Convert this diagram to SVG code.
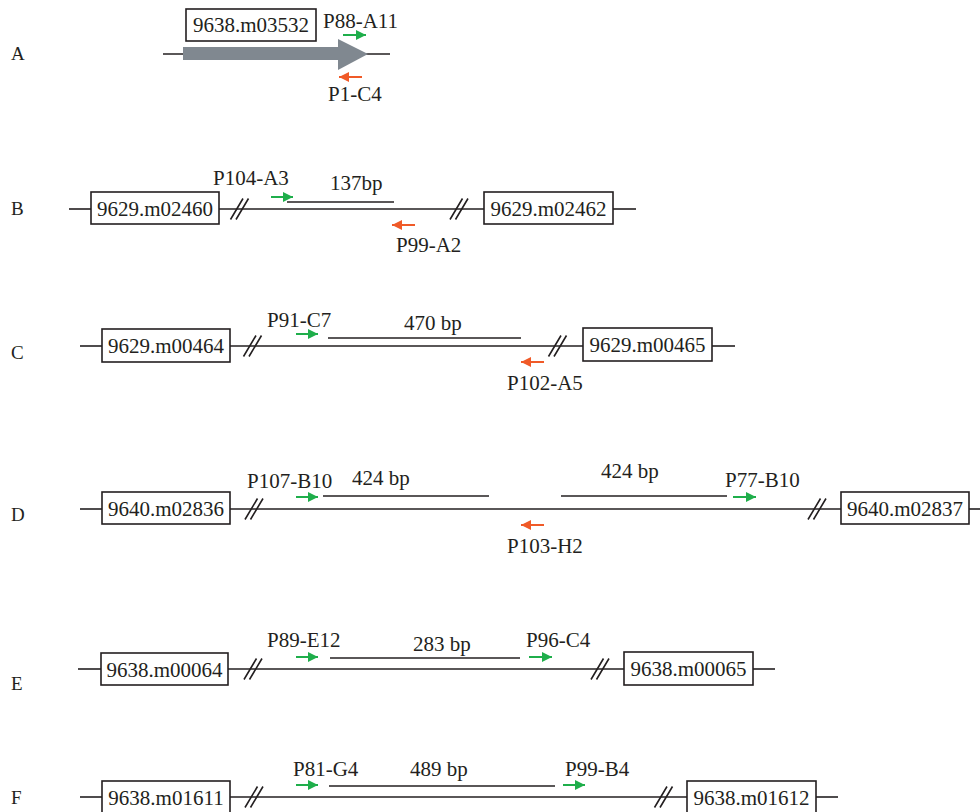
<svg xmlns="http://www.w3.org/2000/svg" width="980" height="812" viewBox="0 0 980 812">
<style>
text{font-family:"Liberation Serif","Times New Roman",serif;font-size:21px;fill:#231f20}
.lbl{font-size:19px}
.ln{stroke:#231f20;stroke-width:1.6;fill:none}
.box{fill:#fff;stroke:#231f20;stroke-width:1.6}
.g{stroke:#1fae4b;stroke-width:2;fill:none}
.r{stroke:#f05a28;stroke-width:2;fill:none}
</style>
<defs>
<marker id="mg" markerUnits="userSpaceOnUse" markerWidth="11" markerHeight="10" refX="10" refY="5" orient="auto"><path d="M0,0 L10,5 L0,10 Z" fill="#1fae4b"/></marker>
<marker id="mr" markerUnits="userSpaceOnUse" markerWidth="11" markerHeight="10" refX="10" refY="5" orient="auto"><path d="M0,0 L10,5 L0,10 Z" fill="#f05a28"/></marker>
<g id="brk"><path class="ln" d="M-9,10.5 L3.5,-10.5 M-3.5,10.5 L9,-10.5" stroke-width="1.4"/></g>
</defs>

<g id="rowlabels">
<text class="lbl" x="11" y="60">A</text>
<text class="lbl" x="11" y="215">B</text>
<text class="lbl" x="11" y="359">C</text>
<text class="lbl" x="11" y="521">D</text>
<text class="lbl" x="11" y="690">E</text>
<text class="lbl" x="11" y="804">F</text>
</g>

<g id="connectors">
<!-- A -->
<line class="ln" x1="163" y1="54" x2="390" y2="54"/>
<!-- B -->
<line class="ln" x1="69" y1="209" x2="91" y2="209"/>
<line class="ln" x1="219" y1="209" x2="484" y2="209"/>
<line class="ln" x1="613" y1="209" x2="636" y2="209"/>
<line class="ln" x1="287" y1="202" x2="394" y2="202"/>
<!-- C -->
<line class="ln" x1="80" y1="346" x2="102" y2="346"/>
<line class="ln" x1="230" y1="346" x2="583" y2="346"/>
<line class="ln" x1="712" y1="346" x2="735" y2="346"/>
<line class="ln" x1="328" y1="338" x2="521" y2="338"/>
<!-- D -->
<line class="ln" x1="80" y1="509" x2="102" y2="509"/>
<line class="ln" x1="230" y1="509" x2="841" y2="509"/>
<line class="ln" x1="969" y1="509" x2="980" y2="509"/>
<line class="ln" x1="323" y1="496" x2="489" y2="496"/>
<line class="ln" x1="561" y1="496" x2="727" y2="496"/>
<!-- E -->
<line class="ln" x1="78" y1="669" x2="101" y2="669"/>
<line class="ln" x1="228" y1="669" x2="624" y2="669"/>
<line class="ln" x1="753" y1="669" x2="775" y2="669"/>
<line class="ln" x1="330" y1="658" x2="520" y2="658"/>
<!-- F -->
<line class="ln" x1="80" y1="797" x2="102" y2="797"/>
<line class="ln" x1="230" y1="797" x2="687" y2="797"/>
<line class="ln" x1="816" y1="797" x2="838" y2="797"/>
<line class="ln" x1="329" y1="786" x2="555" y2="786"/>
<!-- breaks -->
<use href="#brk" x="239.5" y="209"/>
<use href="#brk" x="459" y="209"/>
<use href="#brk" x="252.5" y="346"/>
<use href="#brk" x="557.5" y="346"/>
<use href="#brk" x="254" y="509"/>
<use href="#brk" x="817" y="509"/>
<use href="#brk" x="253" y="669"/>
<use href="#brk" x="600" y="669"/>
<use href="#brk" x="254" y="797"/>
<use href="#brk" x="663.5" y="797"/>
</g>

<g id="geneA">
<polygon points="183,47 338,47 338,39 368,54 338,70 338,60 183,60" fill="#808890"/>
<rect class="box" x="186" y="9" width="130" height="32"/>
<text x="251" y="32" text-anchor="middle">9638.m03532</text>
</g>

<g id="primers">
<line class="g" x1="343" y1="35" x2="366" y2="35" marker-end="url(#mg)"/>
<text x="323" y="28">P88-A11</text>
<line class="r" x1="362" y1="77" x2="339" y2="77" marker-end="url(#mr)"/>
<text x="328" y="101">P1-C4</text>

<line class="g" x1="271" y1="197" x2="293" y2="197" marker-end="url(#mg)"/>
<text x="213" y="185">P104-A3</text>
<text x="330" y="190">137bp</text>
<line class="r" x1="415" y1="225" x2="392" y2="225" marker-end="url(#mr)"/>
<text x="396" y="252">P99-A2</text>

<line class="g" x1="296" y1="334" x2="318" y2="334" marker-end="url(#mg)"/>
<text x="267" y="327">P91-C7</text>
<text x="404" y="330">470 bp</text>
<line class="r" x1="544" y1="362" x2="521" y2="362" marker-end="url(#mr)"/>
<text x="507" y="390">P102-A5</text>

<line class="g" x1="296" y1="497" x2="318" y2="497" marker-end="url(#mg)"/>
<text x="247" y="488">P107-B10</text>
<text x="352" y="485">424 bp</text>
<text x="601" y="478">424 bp</text>
<line class="g" x1="733" y1="497" x2="756" y2="497" marker-end="url(#mg)"/>
<text x="725" y="487">P77-B10</text>
<line class="r" x1="544" y1="525" x2="521" y2="525" marker-end="url(#mr)"/>
<text x="507" y="553">P103-H2</text>

<line class="g" x1="296" y1="657" x2="318" y2="657" marker-end="url(#mg)"/>
<text x="267" y="647">P89-E12</text>
<text x="413" y="651">283 bp</text>
<line class="g" x1="529" y1="657" x2="552" y2="657" marker-end="url(#mg)"/>
<text x="526" y="647">P96-C4</text>

<line class="g" x1="296" y1="785" x2="318" y2="785" marker-end="url(#mg)"/>
<text x="293" y="776">P81-G4</text>
<text x="410" y="776">489 bp</text>
<line class="g" x1="563" y1="785" x2="585" y2="785" marker-end="url(#mg)"/>
<text x="565" y="776">P99-B4</text>
</g>

<g id="geneB1"><rect class="box" x="91" y="192" width="128" height="32"/><text x="155" y="215.5" text-anchor="middle">9629.m02460</text></g>
<g id="geneB2"><rect class="box" x="484" y="192" width="129" height="32"/><text x="548.5" y="215.5" text-anchor="middle">9629.m02462</text></g>
<g id="geneC1"><rect class="box" x="102" y="329" width="128" height="33"/><text x="166" y="353" text-anchor="middle">9629.m00464</text></g>
<g id="geneC2"><rect class="box" x="583" y="328" width="129" height="33"/><text x="647.5" y="352" text-anchor="middle">9629.m00465</text></g>
<g id="geneD1"><rect class="box" x="102" y="492" width="128" height="32"/><text x="166" y="515.5" text-anchor="middle">9640.m02836</text></g>
<g id="geneD2"><rect class="box" x="841" y="492" width="128" height="32"/><text x="905" y="515.5" text-anchor="middle">9640.m02837</text></g>
<g id="geneE1"><rect class="box" x="101" y="653" width="127" height="32"/><text x="164.5" y="676.5" text-anchor="middle">9638.m00064</text></g>
<g id="geneE2"><rect class="box" x="624" y="652" width="129" height="33"/><text x="688.5" y="676" text-anchor="middle">9638.m00065</text></g>
<g id="geneF1"><rect class="box" x="102" y="781" width="128" height="33"/><text x="166" y="805" text-anchor="middle">9638.m01611</text></g>
<g id="geneF2"><rect class="box" x="687" y="781" width="129" height="33"/><text x="751.5" y="805" text-anchor="middle">9638.m01612</text></g>
</svg>
